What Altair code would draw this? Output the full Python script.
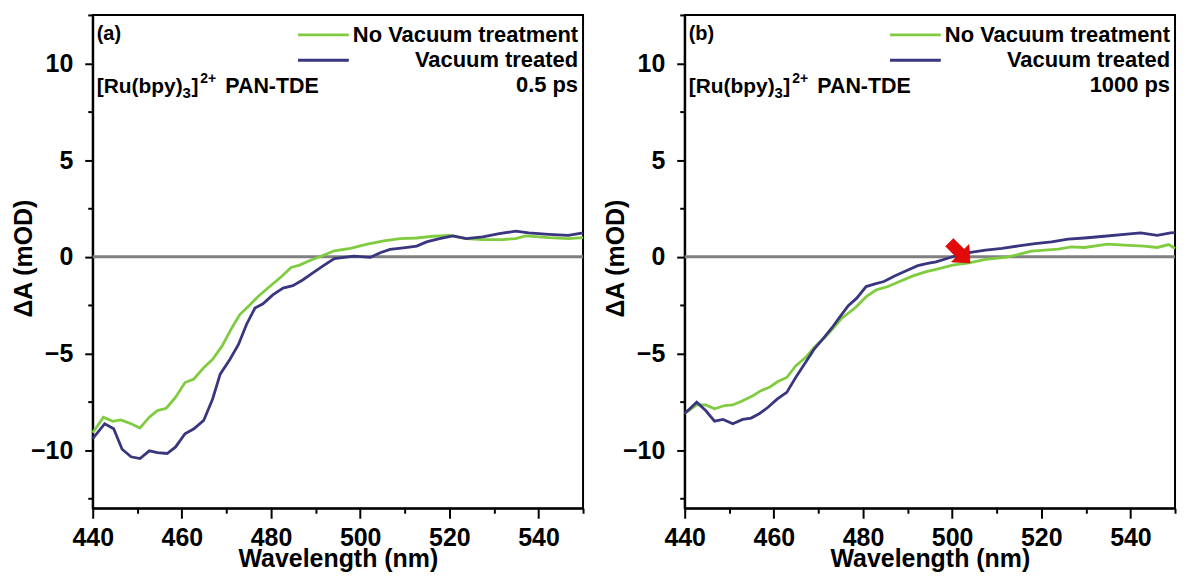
import altair as alt
import pandas as pd

# ---------------- data ----------------
series_names = ["No Vacuum treatment", "Vacuum treated"]
series_colors = ["#80cc40", "#39357f"]

# panel (a): 0.5 ps
wl_a_nv = [440.0, 442.4, 444.5, 446.3, 448.6, 450.6, 452.7, 454.5, 456.5, 458.6, 460.7, 462.7,
           464.9, 466.9, 469.0, 471.2, 473.0, 475.3, 477.1, 479.7, 482.3, 484.5, 486.4, 489.0,
           491.2, 494.2, 497.8, 501.6, 505.3, 509.0, 512.7, 516.4, 520.1, 523.8, 527.5, 531.9,
           534.9, 537.1, 542.3, 546.7, 550.0]
dA_a_nv = [-9.1, -8.29, -8.51, -8.43, -8.63, -8.85, -8.29, -7.95, -7.83, -7.26, -6.50, -6.32,
           -5.73, -5.30, -4.62, -3.68, -2.99, -2.48, -2.05, -1.54, -1.03, -0.55, -0.43, -0.17,
           0.03, 0.31, 0.43, 0.65, 0.82, 0.94, 0.97, 1.06, 1.11, 0.94, 0.89, 0.89,
           0.94, 1.08, 0.99, 0.94, 0.99]
wl_a_v = [440.0, 442.7, 444.7, 446.6, 448.6, 450.6, 452.7, 454.5, 456.7, 458.6, 460.7, 462.7,
          464.9, 466.9, 468.6, 470.8, 472.7, 474.5, 476.4, 478.2, 480.4, 482.7, 484.9, 487.1,
          489.3, 491.6, 494.2, 498.6, 502.3, 504.5, 506.7, 509.7, 512.7, 514.9, 517.8, 520.8,
          523.8, 527.5, 531.2, 534.9, 537.8, 542.3, 546.7, 550.0]
dA_a_v = [-9.4, -8.63, -8.89, -9.95, -10.34, -10.43, -10.03, -10.12, -10.17, -9.83, -9.15, -8.89,
          -8.46, -7.35, -6.07, -5.30, -4.53, -3.50, -2.65, -2.43, -1.97, -1.62, -1.49, -1.20,
          -0.85, -0.48, -0.09, 0.03, -0.03, 0.21, 0.38, 0.46, 0.55, 0.77, 0.94, 1.08,
          0.94, 1.03, 1.20, 1.32, 1.23, 1.16, 1.11, 1.23]

# panel (b): 1000 ps
wl_b_nv = [440.0, 442.7, 444.7, 446.7, 449.0, 450.8, 453.0, 455.3, 457.1, 459.0, 460.8, 462.9,
           464.9, 467.1, 469.3, 471.6, 473.4, 475.3, 478.2, 480.8, 483.0, 485.6, 488.2, 491.2,
           494.2, 496.4, 500.1, 503.8, 507.5, 511.9, 514.9, 517.8, 520.8, 523.8, 526.7, 529.7,
           534.9, 538.6, 543.1, 546.0, 548.6, 550.0]
dA_b_nv = [-8.1, -7.66, -7.66, -7.86, -7.69, -7.66, -7.44, -7.18, -6.92, -6.75, -6.46, -6.24,
           -5.64, -5.21, -4.62, -4.14, -3.68, -3.16, -2.65, -2.05, -1.71, -1.54, -1.28, -0.99,
           -0.77, -0.65, -0.43, -0.31, -0.14, -0.03, 0.12, 0.29, 0.34, 0.39, 0.51, 0.48,
           0.65, 0.60, 0.55, 0.48, 0.63, 0.43]
wl_b_v = [440.0, 442.7, 444.7, 446.7, 448.6, 450.8, 453.0, 454.9, 456.7, 458.7, 460.8, 462.9,
          464.9, 467.1, 469.0, 471.2, 473.0, 474.9, 476.7, 478.6, 480.7, 482.7, 484.7, 487.1,
          489.7, 492.3, 494.5, 496.4, 500.1, 503.8, 507.5, 511.2, 514.9, 518.6, 522.3, 526.0,
          529.7, 534.1, 538.6, 542.3, 546.0, 549.0, 550.0]
dA_b_v = [-8.1, -7.52, -7.95, -8.50, -8.41, -8.63, -8.41, -8.34, -8.12, -7.78, -7.35, -7.01,
          -6.24, -5.47, -4.79, -4.19, -3.68, -3.08, -2.53, -2.14, -1.54, -1.40, -1.28, -0.99,
          -0.72, -0.46, -0.34, -0.26, 0.0, 0.21, 0.34, 0.43, 0.56, 0.68, 0.77, 0.91,
          0.97, 1.06, 1.16, 1.23, 1.11, 1.23, 1.25]

# arrow annotation in panel (b)
arrow_wl = [501.7]
arrow_dA = [0.21]

x_major = [440, 460, 480, 500, 520, 540]
x_minor = [450, 470, 490, 510, 530, 550]
y_major = [-10, -5, 0, 5, 10]
y_minor = [-12.5, -7.5, -2.5, 2.5, 7.5, 12.5]

FONT = "Liberation Sans"
W, H = 492, 495

xs = alt.Scale(domain=[440, 550], nice=False, zero=False)
ys = alt.Scale(domain=[-13, 12.5], nice=False, zero=False)

ARROW = "M -1 -0.38 L 0.05 -0.38 L 0.05 -0.85 L 1 0 L 0.05 0.85 L 0.05 0.38 L -1 0.38 Z"


def txt(s, x, y, size=21, align="left", weight="bold"):
    return alt.Chart(pd.DataFrame({"t": [s]})).mark_text(
        font=FONT, fontSize=size, fontWeight=weight, color="black",
        align=align, baseline="alphabetic"
    ).encode(x=alt.value(x), y=alt.value(y), text="t:N")


def hline(x1, x2, y, color):
    return alt.Chart(pd.DataFrame({"a": [0]})).mark_rule(
        color=color, strokeWidth=3
    ).encode(x=alt.value(x1), x2=alt.value(x2), y=alt.value(y))


def panel(wl1, v1, wl2, v2, tag, time_label, with_arrow=False):
    df = pd.concat([
        pd.DataFrame({"wl": wl1, "dA": v1, "series": series_names[0]}),
        pd.DataFrame({"wl": wl2, "dA": v2, "series": series_names[1]}),
    ], ignore_index=True)

    zero = alt.Chart(pd.DataFrame({"z": [0]})).mark_rule(
        color="#808080", strokeWidth=3
    ).encode(y=alt.Y("z:Q", scale=ys, axis=None))

    minor = alt.Chart(df).mark_point(opacity=0).encode(
        x=alt.X("wl:Q", scale=xs, axis=alt.Axis(
            values=x_minor, labels=False, title=None, domain=False, grid=False,
            tickSize=5, orient="bottom")),
        y=alt.Y("dA:Q", scale=ys, axis=alt.Axis(
            values=y_minor, labels=False, title=None, domain=False, grid=False,
            tickSize=5, orient="left")),
    )

    lines = alt.Chart(df).mark_line(strokeWidth=2.8).encode(
        x=alt.X("wl:Q", scale=xs, axis=alt.Axis(
            values=x_major, tickSize=10, labelPadding=7, format="d",
            title="Wavelength (nm)", titleY=58, titleBaseline="alphabetic",
            orient="bottom")),
        y=alt.Y("dA:Q", scale=ys, axis=alt.Axis(
            values=y_major, tickSize=8, labelPadding=12, format="d",
            title="ΔA (mOD)", titleX=-61, titleY=244, titleBaseline="alphabetic",
            titleAlign="center", orient="left")),
        color=alt.Color("series:N", scale=alt.Scale(domain=series_names, range=series_colors),
                        legend=None),
    )

    R = W - 1
    layers = [zero, minor, lines,
              hline(W - 286, W - 235, 20, series_colors[0]),
              hline(W - 286, W - 235, 45.5, series_colors[1]),
              txt(series_names[0], R - 4, 27.5, size=22, align="right"),
              txt(series_names[1], R - 4, 52.5, size=22, align="right"),
              txt(time_label, R - 4, 77.5, size=22, align="right"),
              txt(tag, 4, 25, size=20),
              txt("[Ru(bpy)", 4, 78.5, size=21),
              txt("3", 90, 83, size=15),
              txt("]", 99, 78.5, size=21),
              txt("2+", 108, 68.5, size=14),
              txt("PAN-TDE", 133, 78.5, size=21.5)]

    if with_arrow:
        arr = alt.Chart(pd.DataFrame({"wl": arrow_wl, "dA": arrow_dA})).mark_point(
            shape=ARROW, filled=True, fill="#e30a0a", stroke="#c00000", strokeWidth=0.5,
            opacity=1, size=850, angle=45
        ).encode(x=alt.X("wl:Q", scale=xs, axis=None), y=alt.Y("dA:Q", scale=ys, axis=None))
        layers.append(arr)

    return alt.layer(*layers).resolve_axis(x="independent", y="independent").properties(
        width=W, height=H)


pa = panel(wl_a_nv, dA_a_nv, wl_a_v, dA_a_v, "(a)", "0.5 ps")
pb = panel(wl_b_nv, dA_b_nv, wl_b_v, dA_b_v, "(b)", "1000 ps", with_arrow=True)

chart = alt.hconcat(pa, pb, spacing=13).properties(
    padding={"left": 3, "top": 4, "right": 0, "bottom": 0}
).configure_view(stroke="black", strokeWidth=2).configure_axis(
    labelFont=FONT, labelFontWeight="bold", labelFontSize=25, labelColor="black",
    titleFont=FONT, titleFontWeight="bold", titleFontSize=25, titleColor="black",
    domainColor="black", domainWidth=2, tickColor="black", tickWidth=2, grid=False,
    labelFlush=False
)

chart.save("out.html", embed_options={"renderer": "svg", "actions": False})
